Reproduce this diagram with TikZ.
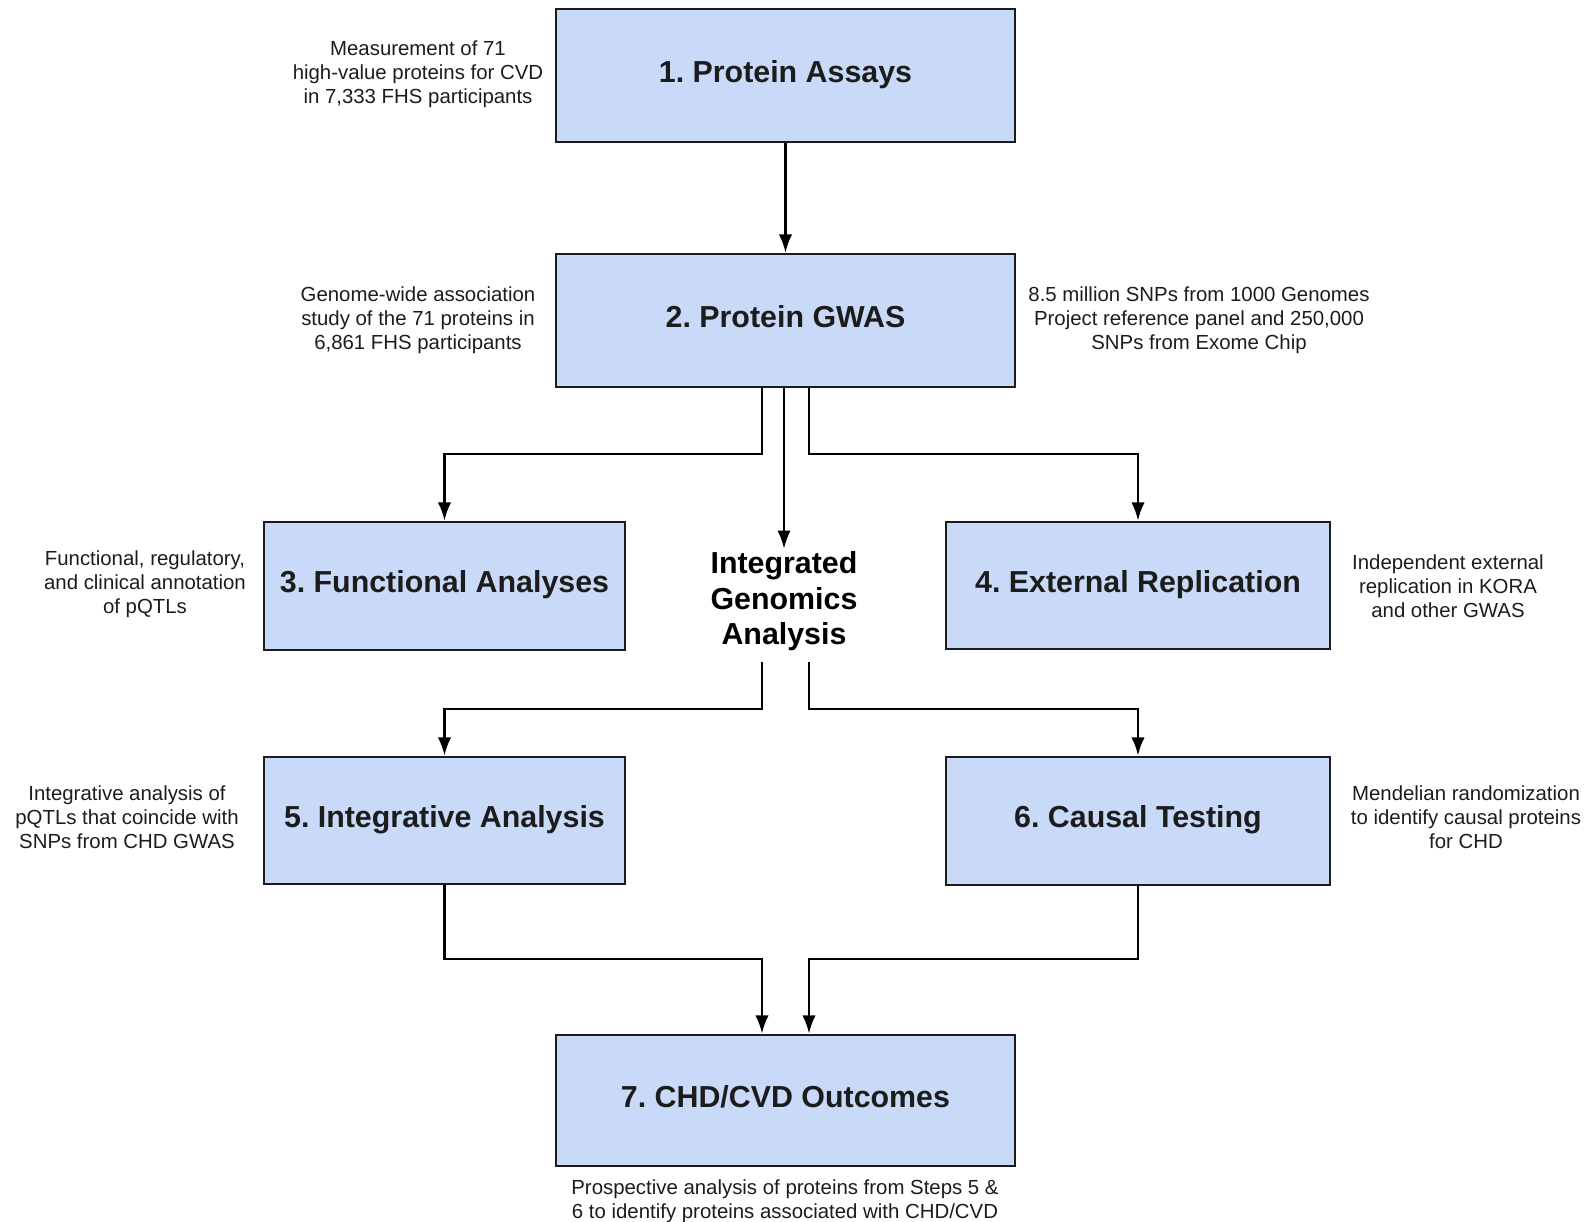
\documentclass[tikz,border=0pt]{standalone}
\usepackage{fontspec}
\setmainfont{Liberation Sans}
\frenchspacing
\usetikzlibrary{arrows.meta}
\definecolor{boxblue}{HTML}{C9DAF8}
\definecolor{ink}{HTML}{1C1C1C}

\begin{document}
\begin{tikzpicture}[x=0.025cm, y=-0.025cm,
    box/.style={draw=ink, line width=1.8pt, fill=boxblue, text=ink, text height=15.5pt, text depth=5.8pt,
      font=\fontsize{21.6}{26}\selectfont\bfseries},
    note/.style={align=center, text=ink, font=\fontsize{14.5}{17.1}\selectfont},
    arr/.style={line width=1.8pt, -{Latex[length=13pt, width=9.5pt]}}]
  \useasboundingbox (0, 0) rectangle (1593, 1222);

  % boxes
  \node[box, minimum width=11.475cm, minimum height=3.325cm] (b1) at (785.5, 75.5) {1. Protein Assays};
  \node[box, minimum width=11.475cm, minimum height=3.325cm] (b2) at (785.5, 320.5) {2. Protein GWAS};
  \node[box, minimum width=9.025cm, minimum height=3.2cm] (b3) at (444.5, 586) {3. Functional Analyses};
  \node[box, minimum width=9.6cm, minimum height=3.175cm] (b4) at (1138, 585.5) {4. External Replication};
  \node[box, minimum width=9.025cm, minimum height=3.175cm] (b5) at (444.5, 820.5) {5. Integrative Analysis};
  \node[box, minimum width=9.6cm, minimum height=3.2cm] (b6) at (1138, 821) {6. Causal Testing};
  \node[box, minimum width=11.475cm, minimum height=3.275cm] (b7) at (785.5, 1100.5) {7. CHD/CVD Outcomes};
  \node[align=center, text=black, inner sep=2pt, font=\fontsize{21.6}{25.2}\selectfont\bfseries] (iga) at (784, 601.5)
    {Integrated\\Genomics\\Analysis};

  % notes
  \node[note] (n1) at (418, 74.5) {Measurement of 71\\high-value proteins for CVD\\in 7,333 FHS participants};
  \node[note] (n2) at (418, 320) {Genome-wide association\\study of the 71 proteins in\\6,861 FHS participants};
  \node[note] (n2r) at (1199, 320) {8.5 million SNPs from 1000 Genomes\\Project reference panel and 250,000\\SNPs from Exome Chip};
  \node[note] (n3) at (145, 584) {Functional, regulatory,\\and clinical annotation\\of pQTLs};
  \node[note] (n4) at (1448, 586) {Independent external\\replication in KORA\\and other GWAS};
  \node[note] (n5) at (127, 817) {Integrative analysis of\\pQTLs that coincide with\\SNPs from CHD GWAS};
  \node[note] (n6) at (1466, 817) {Mendelian randomization\\to identify causal proteins\\for CHD};
  \node[note] (n7) at (785, 1201.5) {Prospective analysis of proteins from Steps 5 \&\\6 to identify proteins associated with CHD/CVD};

  % connectors
  \coordinate (j2l) at (762, 454);
  \coordinate (j2r) at (809, 454);
  \coordinate (s5) at (762, 662);
  \coordinate (s6) at (809, 662);
  \coordinate (j5) at (762, 709);
  \coordinate (j6) at (809, 709);
  \coordinate (j7l) at (762, 959);
  \coordinate (j7r) at (809, 959);

  \draw[arr] (b1) -- (b2);
  \draw[arr] (j2l |- b2.south) -- (j2l) -| (b3.north);
  \draw[arr] (b2.south -| iga.north) -- (iga.north);
  \draw[arr] (j2r |- b2.south) -- (j2r) -| (b4.north);
  \draw[arr] (s5) -- (j5) -| (b5.north);
  \draw[arr] (s6) -- (j6) -| (b6.north);
  \draw[arr] (b5.south) |- (j7l) -- (j7l |- b7.north);
  \draw[arr] (b6.south) |- (j7r) -- (j7r |- b7.north);
\end{tikzpicture}
\end{document}
